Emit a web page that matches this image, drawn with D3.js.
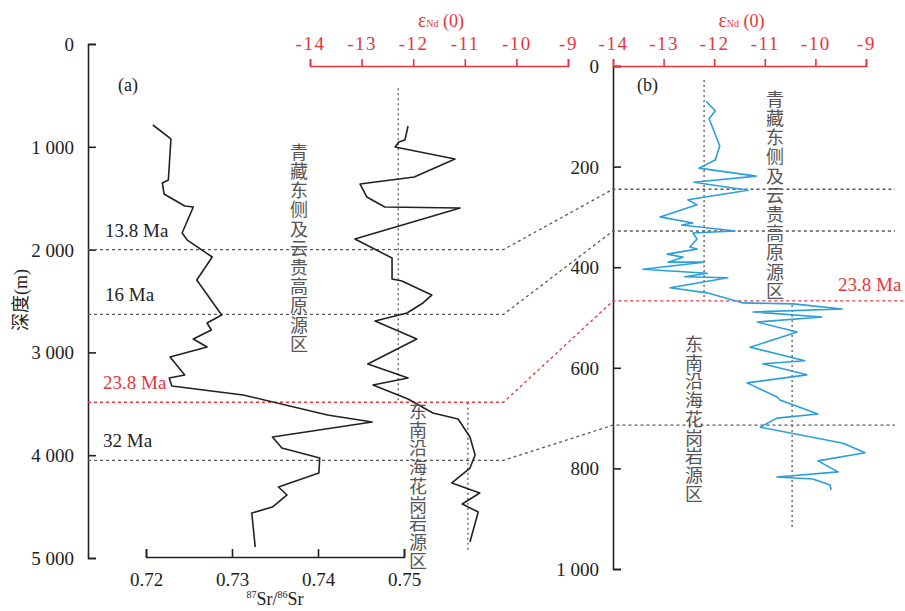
<!DOCTYPE html>
<html><head><meta charset="utf-8">
<script src="https://cdn.jsdelivr.net/npm/d3@7"></script>
<style>
body{margin:0;background:#fff;}
text{font-family:"Liberation Serif","Times New Roman",serif;}
text.cn{font-family:"Noto Sans CJK SC",sans-serif;}
text.vt{font-family:"Noto Sans CJK SC",sans-serif;writing-mode:vertical-rl;text-orientation:upright;}
</style></head>
<body>
<svg id="c" width="905" height="611"></svg>
<script>
// ---------- data ----------
// Panel (a): 87Sr/86Sr vs depth (m)
const srDepth = [788,924,1323,1352,1459,1576,1586,1838,1907,2072,2296,2636,2714,2782,2870,2947,3045,3220,3249,3327,3414,3609,3677,3823,3930,4027,4173,4309,4387,4504,4562,4893];
const srValue = [0.7208,0.7229,0.7226,0.7219,0.7221,0.7245,0.7255,0.7242,0.7248,0.7277,0.7259,0.7288,0.7271,0.7276,0.7255,0.7271,0.7228,0.7245,0.7227,0.7230,0.7313,0.7411,0.7463,0.7347,0.7358,0.7402,0.7401,0.7354,0.7364,0.7347,0.7323,0.7327];
// Panel (a): εNd(0) vs depth (m)
const ndADepth = [798,934,953,1002,1119,1294,1362,1488,1586,1595,1897,2082,2286,2305,2442,2519,2617,2695,2870,3113,3249,3317,3453,3589,3648,3823,3998,4125,4270,4368,4475,4553,4844];
const ndAValue = [-12.10,-12.16,-12.28,-12.35,-11.19,-11.98,-13.03,-12.90,-12.55,-11.09,-13.13,-12.41,-12.41,-12.22,-11.64,-11.81,-12.12,-12.74,-11.93,-12.88,-12.10,-12.78,-12.10,-11.62,-11.13,-10.90,-10.80,-10.90,-11.25,-10.71,-11.05,-10.74,-10.90];
// Panel (b): εNd(0) vs depth (m)
const ndBDepth = [70,89,105,159,187,203,219,231,247,266,276,300,312,316,328,332,344,360,364,374,380,390,390,404,412,419,421,441,451,471,473,483,489,499,509,529,535,559,586,592,614,630,658,664,692,700,718,750,769,785,807,817,821,833,843];
const ndBValue = [-12.16,-11.98,-12.10,-11.89,-11.98,-12.30,-11.17,-12.40,-11.33,-12.52,-12.34,-13.07,-12.42,-12.64,-11.59,-12.42,-12.34,-12.48,-12.34,-12.93,-12.62,-12.91,-12.20,-13.41,-12.14,-12.58,-11.73,-12.87,-12.14,-11.43,-10.44,-9.47,-11.23,-9.87,-11.15,-10.36,-10.54,-11.29,-10.21,-11.04,-10.17,-11.35,-10.76,-10.70,-9.95,-10.76,-11.09,-9.45,-9.02,-9.95,-9.55,-10.76,-10.05,-9.71,-9.69];
// Age boundaries
const ageLabels = ["13.8 Ma","16 Ma","23.8 Ma","32 Ma"];
const ageDepthA = [2000,2630,3485,4050];
const ageDepthB = [245,328,467,714];
const ageRed = [false,false,true,false];
// Reference (mean) εNd lines: [value, depthFrom, depthTo]
const refA = [[-12.29,430,3490],[-10.94,3490,4945]];
const refB = [[-12.2,28,459],[-10.46,475,917]];
// Ticks
const depthTicksA = [0,1000,2000,3000,4000,5000];
const depthTicksB = [0,200,400,600,800,1000];
const srTicks = [0.72,0.73,0.74,0.75];
const ndTicks = [-14,-13,-12,-11,-10,-9];
const sourceUpper = "青藏东侧及云贵高原源区";
const sourceLower = "东南沿海花岗岩源区";

// ---------- layout ----------
const svg = d3.select("#c");
const RED = "#e8353b", BLUE = "#2a9fdc", GRAY = "#5a5a5a", INK = "#222";
const ya = d3.scaleLinear([0,5000],[44,558]);
const xSr = d3.scaleLinear([0.72,0.75],[146,404]);
const xNdA = d3.scaleLinear([-14,-9],[310,568]);
const yb = d3.scaleLinear([0,1000],[66,569]);
const xNdB = d3.scaleLinear([-14,-9],[613,866]);
const fmtDepth = d => d>=1000 ? d3.format(",")(d).replace(","," ") : String(d);
const FS = 18, TFS = 19;

function styleAxis(g, color){
  g.select(".domain").attr("stroke",color).attr("stroke-width",1.6);
  g.selectAll(".tick line").attr("stroke",color).attr("stroke-width",1.6);
  g.selectAll(".tick text").attr("fill",color).attr("font-size",TFS);
}

// Panel a depth axis (ticks pointing right)
const axA = svg.append("g").attr("transform","translate(88,0)")
  .call(d3.axisLeft(ya).tickValues(depthTicksA).tickSizeInner(-8).tickSizeOuter(-8).tickPadding(14).tickFormat(fmtDepth));
styleAxis(axA, INK);
axA.selectAll(".tick text").attr("dy","0.34em");

// Panel b depth axis
const axB = svg.append("g").attr("transform","translate(613,0)")
  .call(d3.axisLeft(yb).tickValues(depthTicksB).tickSizeInner(-8).tickSizeOuter(-8).tickPadding(14).tickFormat(fmtDepth));
styleAxis(axB, INK);
axB.selectAll(".tick text").attr("dy","0.34em");

// Sr axis bottom (ticks pointing up)
const axSr = svg.append("g").attr("transform","translate(0,557)")
  .call(d3.axisBottom(xSr).tickValues(srTicks).tickSizeInner(-8).tickSizeOuter(-8).tickPadding(16).tickFormat(d3.format(".2f")));
styleAxis(axSr, INK);

// Nd axes top (red, ticks up)
const axNdA = svg.append("g").attr("transform","translate(0,66)")
  .call(d3.axisTop(xNdA).tickValues(ndTicks).tickSizeInner(7).tickSizeOuter(7).tickPadding(9).tickFormat(d=>"-"+Math.abs(d)));
styleAxis(axNdA, RED);
const axNdB = svg.append("g").attr("transform","translate(0,66)")
  .call(d3.axisTop(xNdB).tickValues(ndTicks).tickSizeInner(7).tickSizeOuter(7).tickPadding(9).tickFormat(d=>"-"+Math.abs(d)));
styleAxis(axNdB, RED);
[axNdA, axNdB].forEach(g=>g.selectAll(".tick text").attr("letter-spacing","1.5px"));

// εNd titles
function ndTitle(cx){
  const t = svg.append("text").attr("x",cx).attr("y",27).attr("text-anchor","middle")
    .attr("fill",RED).attr("font-size",FS);
  t.append("tspan").attr("font-size",20).text("ε");
  t.append("tspan").attr("font-size",10).text("Nd");
  t.append("tspan").text(" (0)");
}
ndTitle(xNdA(-11.5)+2);
ndTitle(xNdB(-11.5)+2);

// Sr title
const st = svg.append("text").attr("x",275).attr("y",605).attr("text-anchor","middle")
  .attr("fill",INK).attr("font-size",FS);
st.append("tspan").attr("font-size",10).attr("dy",-7).text("87");
st.append("tspan").attr("dy",7).text("Sr/");
st.append("tspan").attr("font-size",10).attr("dy",-7).text("86");
st.append("tspan").attr("dy",7).text("Sr");

// Depth title
svg.append("text").attr("transform","translate(27,300) rotate(-90)").attr("text-anchor","middle")
  .attr("fill",INK).attr("font-size",FS)
  .html('<tspan font-family="Noto Sans CJK SC">深度</tspan><tspan font-family="Liberation Serif">(m)</tspan>');

// Panel labels
svg.append("text").attr("x",118).attr("y",91).attr("font-size",FS).attr("fill",INK).text("(a)");
svg.append("text").attr("x",637).attr("y",91).attr("font-size",FS).attr("fill",INK).text("(b)");

// Age lines
const xEndA = xNdA(-10.25);
const xEndB = 895;
ageLabels.forEach((lab,i)=>{
  const c = ageRed[i] ? RED : GRAY;
  const y1 = ya(ageDepthA[i]), y2 = yb(ageDepthB[i]);
  svg.append("path")
    .attr("d", d3.line()([[88,y1],[xEndA,y1],[xNdB(-14),y2],[ageRed[i]?905:xEndB,y2]]))
    .attr("fill","none").attr("stroke",c).attr("stroke-width",1.3).attr("stroke-dasharray","3,3");
  svg.append("text").attr("x", i<2?105:103).attr("y", y1-13).attr("font-size",TFS)
    .attr("fill", ageRed[i]?RED:INK).text(lab);
});
svg.append("text").attr("x",838).attr("y",yb(ageDepthB[2])-10).attr("font-size",TFS)
  .attr("fill",RED).text(ageLabels[2]);

// Reference dotted verticals
refA.forEach(r=>svg.append("line").attr("x1",xNdA(r[0])).attr("x2",xNdA(r[0]))
  .attr("y1",ya(r[1])).attr("y2",ya(r[2])).attr("stroke",GRAY).attr("stroke-width",1.3).attr("stroke-dasharray","2,3"));
refB.forEach(r=>svg.append("line").attr("x1",xNdB(r[0])).attr("x2",xNdB(r[0]))
  .attr("y1",yb(r[1])).attr("y2",yb(r[2])).attr("stroke",GRAY).attr("stroke-width",1.3).attr("stroke-dasharray","2,3"));

// Curves
const srData = srDepth.map((d,i)=>({d, v:srValue[i]}));
const ndAData = ndADepth.map((d,i)=>({d, v:ndAValue[i]}));
const ndBData = ndBDepth.map((d,i)=>({d, v:ndBValue[i]}));
svg.append("path").datum(srData).attr("fill","none").attr("stroke",INK).attr("stroke-width",1.6)
  .attr("stroke-linejoin","round").attr("d", d3.line().x(p=>xSr(p.v)).y(p=>ya(p.d)));
svg.append("path").datum(ndAData).attr("fill","none").attr("stroke",INK).attr("stroke-width",1.6)
  .attr("stroke-linejoin","round").attr("d", d3.line().x(p=>xNdA(p.v)).y(p=>ya(p.d)));
svg.append("path").datum(ndBData).attr("fill","none").attr("stroke",BLUE).attr("stroke-width",1.6)
  .attr("stroke-linejoin","round").attr("d", d3.line().x(p=>xNdB(p.v)).y(p=>yb(p.d)));

// Vertical Chinese labels (single text each, vertical writing mode)
function vText(str, cx, top, step){
  svg.append("text").attr("class","vt").attr("x",cx).attr("y",top)
    .attr("font-size",FS).attr("letter-spacing",(step-FS)+"px").attr("fill","#555").text(str);
}
vText(sourceUpper, 299, 143, 19.2);
vText(sourceLower, 418, 402, 18.75);
vText(sourceUpper, 775, 90, 19.2);
vText(sourceLower, 694, 335, 18.75);
</script>
</body></html>
